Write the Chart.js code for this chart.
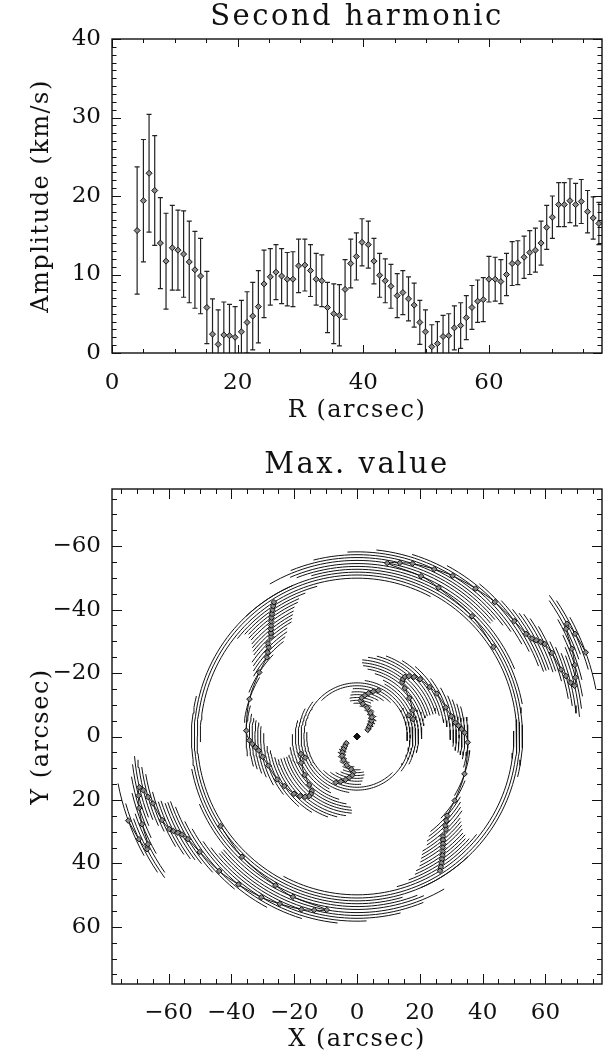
<!DOCTYPE html>
<html lang="en">
<head>
<meta charset="UTF-8">
<title>Second harmonic</title>
<style>
  body { margin: 0; background: #fff; }
  #wrap { position: relative; width: 607px; height: 1059px; }
  canvas { position: absolute; left: 0; }
</style>
</head>
<body>
<div id="wrap">
  <canvas id="ampChart" width="607" height="440" style="top:0"></canvas>
  <canvas id="phaseChart" width="607" height="619" style="top:440px"></canvas>
</div>
<script src="https://cdn.jsdelivr.net/npm/chart.js"></script>
<script>
// ring radius (arcsec), one entry per measured ring
const radius = [
  4.0, 5.0, 5.9, 6.8, 7.7, 8.6, 9.6, 10.5, 11.4, 12.3,
  13.2, 14.1, 15.1, 16.0, 16.9, 17.8, 18.7, 19.6, 20.6, 21.5,
  22.4, 23.3, 24.2, 25.2, 26.1, 27.0, 27.9, 28.8, 29.7, 30.7,
  31.6, 32.5, 33.4, 34.3, 35.3, 36.2, 37.1, 38.0, 38.9, 39.8,
  40.8, 41.7, 42.6, 43.5, 44.4, 45.4, 46.3, 47.2, 48.1, 49.0,
  49.9, 50.9, 51.8, 52.7, 53.6, 54.5, 55.5, 56.4, 57.3, 58.2,
  59.1, 60.0, 61.0, 61.9, 62.8, 63.7, 64.6, 65.6, 66.5, 67.4,
  68.3, 69.2, 70.1, 71.1, 72.0, 72.9, 73.8, 74.7, 75.7, 76.6,
  77.5
];
// second harmonic amplitude (km/s)
const amplitude = [
  15.6, 19.4, 22.9, 20.7, 14.0, 11.7, 13.4, 13.1, 12.6, 11.6,
  10.6, 9.8, 5.8, 2.4, 1.1, 2.3, 2.2, 2.0, 2.7, 3.9,
  4.7, 5.9, 8.8, 9.7, 10.3, 9.8, 9.4, 9.4, 11.1, 11.2,
  10.5, 9.4, 9.2, 5.8, 5.0, 4.8, 8.1, 11.4, 12.3, 14.1,
  13.8, 11.7, 9.9, 9.2, 8.5, 7.3, 7.7, 6.9, 6.1, 3.9,
  2.7, 0.8, 1.2, 2.1, 2.2, 3.2, 3.5, 4.5, 5.8, 6.6,
  6.8, 9.4, 9.4, 9.1, 10.0, 11.4, 11.5, 12.2, 12.8, 13.1,
  14.0, 16.0, 17.3, 18.9, 18.9, 19.4, 18.9, 19.3, 18.0, 17.2,
  16.5
];
// 1-sigma error on the amplitude (km/s)
const ampError = [
  8.1, 7.8, 7.5, 7.0, 5.8, 6.1, 5.4, 5.1, 5.5, 5.2,
  4.9, 4.8, 4.6, 4.5, 4.4, 4.2, 4.0, 3.9, 4.0, 3.9,
  4.3, 4.6, 4.3, 3.6, 3.5, 3.5, 3.4, 3.5, 3.4, 3.3,
  3.3, 3.3, 3.3, 3.2, 3.8, 3.9, 3.8, 3.1, 3.0, 3.0,
  3.0, 2.9, 2.8, 2.8, 2.8, 2.8, 2.8, 2.8, 2.8, 2.8,
  2.8, 2.8, 2.8, 2.7, 2.8, 2.8, 2.9, 2.8, 2.8, 2.7,
  2.8, 2.9, 2.8, 2.8, 2.7, 2.8, 2.8, 2.7, 2.8, 2.8,
  2.8, 2.8, 2.7, 2.8, 2.8, 2.8, 2.7, 2.8, 2.7, 2.7,
  2.7
];
// position angle of the maximum (deg, measured in the X/Y frame; null = undefined)
const phaseDeg = [
  -32, -39, -43, -47, -52, -60, -70, -80, -84, -83,
  -79, -75, -70, -65, null, -22, -17, -25, -36, -45,
  -50, -51, -51, -49, -46, -42, -34, -28, -18, -12,
  -8, -6, -4, -2, 3, 19, 33, 41, 43, 45,
  46, 49, 50, 51, 52, 53, 54, 55, 56, 57,
  58, null, -33, -46, -61, -68, -80, -76, -72, -65,
  -59, -51, -44, -36, -31, -29, -28, -27, -26, -23,
  -18, -16, -14, -13, -15, -18, -22, -27, -28, -25,
  -20
];
// half width of the phase uncertainty arc (deg, 180 = full circle)
const arcHalfWidth = [
  12, 12, 12, 12, 13, 14, 15, 16, 17, 18,
  20, 22, 25, 70, 180, 60, 45, 40, 38, 36,
  35, 35, 35, 33, 30, 28, 25, 22, 20, 18,
  16, 15, 14, 14, 13, 12, 11, 11, 11, 11,
  11, 11, 11, 11, 11, 11, 12, 12, 14, 18,
  60, 180, 100, 60, 50, 45, 40, 36, 32, 28,
  25, 22, 18, 15, 12, 10, 9, 9, 8, 8,
  8, 8, 8, 8, 8, 8, 8, 8, 8, 9,
  9
];
const centre = [0, 0];

const ampXTicks = [0, 20, 40, 60];
const ampYTicks = [0, 10, 20, 30, 40];
const mapTicks = [-60, -40, -20, 0, 20, 40, 60];

const serif = "'DejaVu Serif', serif";
const ink = '#111';

// frame with inward ticks on all four sides
const frameTicks = {
  id: 'frameTicks',
  afterDatasetsDraw(chart, args, opts) {
    const { ctx, chartArea: a } = chart;
    const xs = chart.scales.x, ys = chart.scales.y;
    ctx.save();
    ctx.strokeStyle = ink;
    ctx.lineWidth = 1.4;
    ctx.strokeRect(a.left, a.top, a.right - a.left, a.bottom - a.top);
    ctx.lineWidth = 1;
    ctx.beginPath();
    const mark = (scale, step, major, len, horiz) => {
      for (let v = Math.ceil(scale.min / step) * step; v <= scale.max + 1e-6; v += step) {
        const isMajor = Math.abs(v / major - Math.round(v / major)) < 1e-6;
        const L = isMajor ? len : len / 2;
        const p = Math.round(scale.getPixelForValue(v)) + 0.5;
        if (horiz) {
          ctx.moveTo(p, a.bottom); ctx.lineTo(p, a.bottom - L);
          ctx.moveTo(p, a.top); ctx.lineTo(p, a.top + L);
        } else {
          ctx.moveTo(a.left, p); ctx.lineTo(a.left + L, p);
          ctx.moveTo(a.right, p); ctx.lineTo(a.right - L, p);
        }
      }
    };
    mark(xs, opts.xMinor, opts.xMajor, opts.xLen, true);
    mark(ys, opts.yMinor, opts.yMajor, opts.yLen, false);
    ctx.stroke();
    ctx.restore();
  }
};

// vertical error bars with caps for the amplitude plot
const errorBars = {
  id: 'errorBars',
  beforeDatasetsDraw(chart) {
    if (chart.canvas.id !== 'ampChart') return;
    const { ctx, chartArea: a, scales: { x, y } } = chart;
    ctx.save();
    ctx.beginPath();
    ctx.rect(a.left, a.top, a.right - a.left, a.bottom - a.top);
    ctx.clip();
    ctx.strokeStyle = '#222';
    ctx.lineWidth = 1.2;
    ctx.beginPath();
    radius.forEach((r, i) => {
      const px = x.getPixelForValue(r);
      const top = y.getPixelForValue(amplitude[i] + ampError[i]);
      const bot = y.getPixelForValue(amplitude[i] - ampError[i]);
      ctx.moveTo(px, top); ctx.lineTo(px, bot);
      ctx.moveTo(px - 2.5, top); ctx.lineTo(px + 2.5, top);
      ctx.moveTo(px - 2.5, bot); ctx.lineTo(px + 2.5, bot);
    });
    ctx.stroke();
    ctx.restore();
  }
};

// wider letter spacing for the titles, like the original plot
function spaced(obj, fn, spacing) {
  if (!obj || obj['_sp_' + fn]) return;
  const orig = obj[fn].bind(obj);
  obj[fn] = function (...args) {
    const c = this.ctx;
    const prev = c.letterSpacing;
    c.letterSpacing = spacing;
    orig(...args);
    c.letterSpacing = prev;
  };
  obj['_sp_' + fn] = true;
}
const spacedText = {
  id: 'spacedText',
  afterLayout(chart) {
    spaced(chart.titleBlock, 'draw', '2.5px');
    Object.values(chart.scales).forEach(s => spaced(s, 'drawTitle', '1.5px'));
  }
};

Chart.register(frameTicks, errorBars, spacedText);
Chart.defaults.animation = false;
Chart.defaults.events = [];
Chart.defaults.color = ink;

const minus = v => (v < 0 ? '\u2212' + Math.abs(v) : String(v));

function axis(opts) {
  return {
    min: opts.min, max: opts.max, reverse: !!opts.reverse,
    afterBuildTicks: s => { s.ticks = opts.ticks.map(v => ({ value: v })); },
    afterFit: s => { if (opts.width) s.width = opts.width; if (opts.height) s.height = opts.height; },
    grid: { display: false, drawTicks: false },
    border: { display: false },
    ticks: { font: { family: serif, size: 23 }, color: ink, padding: opts.pad, callback: minus, maxRotation: 0, autoSkip: false },
    title: { display: true, text: opts.title, color: ink, font: { family: serif, size: 24 }, padding: opts.titlePad }
  };
}

function plotTitle(text, top, bottom) {
  return {
    display: true, text, color: ink, fullSize: false,
    font: { family: serif, size: 29, weight: 'normal', lineHeight: 1 },
    padding: { top, bottom }
  };
}

// top: amplitude vs radius
new Chart(document.getElementById('ampChart'), {
  type: 'scatter',
  data: {
    datasets: [{
      data: radius.map((r, i) => ({ x: r, y: amplitude[i] })),
      pointStyle: 'rectRot',
      pointRadius: 3,
      backgroundColor: '#8a8a8a',
      borderColor: ink,
      borderWidth: 1
    }]
  },
  options: {
    responsive: false,
    layout: { padding: { left: 0, right: 1, top: 0, bottom: 0 } },
    plugins: {
      legend: { display: false },
      tooltip: { enabled: false },
      title: plotTitle('Second harmonic', 3, 7),
      frameTicks: { xMinor: 5, xMajor: 20, xLen: 8, yMinor: 1, yMajor: 10, yLen: 9 }
    },
    scales: {
      x: axis({ min: 0, max: 78, ticks: ampXTicks, height: 87, pad: 16, title: 'R (arcsec)', titlePad: { top: 0, bottom: 15 } }),
      y: axis({ min: 0, max: 40, ticks: ampYTicks, width: 112, pad: 11, title: 'Amplitude (km/s)', titlePad: { top: 27, bottom: 0 } })
    }
  }
});

// bottom: position of the maximum in the sky plane
const rad = d => d * Math.PI / 180;
const polar = (r, deg) => ({ x: r * Math.cos(rad(deg)), y: r * Math.sin(rad(deg)) });

const arcSets = [];
radius.forEach((r, i) => {
  const w = arcHalfWidth[i];
  const c = phaseDeg[i] === null ? 0 : phaseDeg[i];
  const sides = w >= 180 ? [0] : [0, 180];
  sides.forEach(off => {
    const n = Math.max(4, Math.ceil(w));
    const pts = [];
    for (let k = 0; k <= n; k++) pts.push(polar(r, c + off - w + 2 * w * k / n));
    arcSets.push({ data: pts, showLine: true, pointRadius: 0, borderColor: ink, borderWidth: 1, tension: 0, order: 3 });
  });
});

// maxima on both sides, and the curve through them (broken where the phase is undefined)
const sideA = [], sideB = [];
const runsA = [[]], runsB = [[]];
radius.forEach((r, i) => {
  if (phaseDeg[i] === null) { runsA.push([]); runsB.push([]); return; }
  const a = polar(r, phaseDeg[i]), b = polar(r, phaseDeg[i] + 180);
  sideA.push(a); sideB.push(b);
  runsA[runsA.length - 1].push(a);
  runsB[runsB.length - 1].push(b);
});

const spiral = pts => ({ data: pts, showLine: true, pointRadius: 0, borderColor: ink, borderWidth: 1, tension: 0.35, order: 2 });
const diamonds = pts => ({ data: pts, pointStyle: 'rectRot', pointRadius: 2.8, backgroundColor: '#8a8a8a', borderColor: ink, borderWidth: 1, order: 1 });

new Chart(document.getElementById('phaseChart'), {
  type: 'scatter',
  data: {
    datasets: [
      ...arcSets,
      ...runsA.map(spiral), ...runsB.map(spiral),
      diamonds(sideA), diamonds(sideB),
      { data: [{ x: centre[0], y: centre[1] }], pointStyle: 'rectRot', pointRadius: 3.5, backgroundColor: ink, borderColor: ink, order: 1 }
    ]
  },
  options: {
    responsive: false,
    layout: { padding: { left: 0, right: 1, top: 0, bottom: 0 } },
    plugins: {
      legend: { display: false },
      tooltip: { enabled: false },
      title: plotTitle('Max. value', 11, 9),
      frameTicks: { xMinor: 5, xMajor: 20, xLen: 10, yMinor: 5, yMajor: 20, yLen: 10 }
    },
    scales: {
      x: axis({ min: -78, max: 78, ticks: mapTicks, height: 75, pad: 15, title: 'X (arcsec)', titlePad: { top: 0, bottom: 5 } }),
      y: axis({ min: -78, max: 78, reverse: true, ticks: mapTicks, width: 112, pad: 11, title: 'Y (arcsec)', titlePad: { top: 27, bottom: 0 } })
    }
  }
});
</script>
</body>
</html>
